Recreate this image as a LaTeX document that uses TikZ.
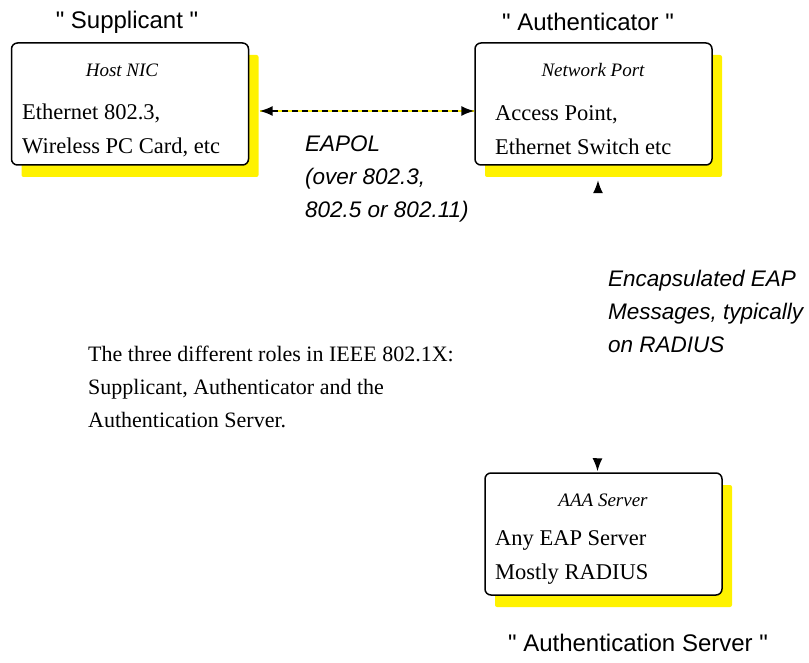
\documentclass[tikz,border=0pt]{standalone}
\usepackage{fontspec}
\setmainfont{Liberation Serif}
\setsansfont{Liberation Sans}
\usetikzlibrary{arrows.meta,calc}
\tikzset{
  box/.style={draw=black, line width=1.5pt, rounded corners=6pt, fill=white,
    minimum width=237pt, minimum height=122pt, inner sep=0pt},
  shadowbox/.style={fill=yellow, draw=none, rounded corners=2pt,
    minimum width=237pt, minimum height=122pt, inner sep=0pt},
  role/.style={font=\sffamily\fontsize{24}{30}\selectfont, inner sep=0pt},
  boxhead/.style={font=\itshape\fontsize{19}{23}\selectfont, inner sep=0pt},
  boxtext/.style={font=\fontsize{22.5}{34}\selectfont, align=left, anchor=west, inner sep=0pt},
  conntext/.style={font=\sffamily\itshape\fontsize{22.5}{33}\selectfont, align=left, anchor=west, inner sep=0pt},
  desc/.style={font=\fontsize{22}{33}\selectfont, align=left, anchor=west, inner sep=0pt},
  tipshape/.tip={Latex[length=13pt,width=10pt,color=black]},
}
\newcommand{\dq}{\textquotedbl}
\begin{document}
\begin{tikzpicture}[x=1pt,y=-1pt]
\useasboundingbox (0,0) rectangle (809,663);
% shadows
\node[shadowbox] (suppsh) at (140,116) {};
\node[shadowbox] (authsh) at (603.5,116) {};
\node[shadowbox] (aaash) at (613.5,546) {};
% boxes
\node[box] (supp) at (130,104) {};
\node[box] (auth) at (593.5,104) {};
\node[box] (aaa) at (603.5,534) {};
% titles
\node[role] (supptitle) at (127,22) {\dq\ Supplicant \dq};
\node[role] (authtitle) at (588,22) {\dq\ Authenticator \dq};
\node[role] (aaatitle) at (638,643) {\dq\ Authentication Server \dq};
% box contents
\node[boxhead] (supphead) at (122,70) {Host NIC};
\node[boxtext] (supptext) at (22,130) {Ethernet 802.3,\\Wireless PC Card, etc};
\node[boxhead] (authhead) at (593,70) {Network Port};
\node[boxtext] (authtext) at (495,130) {Access Point,\\Ethernet Switch etc};
\node[boxhead] (aaahead) at (603,500) {AAA Server};
\node[boxtext] (aaatext) at (495,557) {Any EAP Server\\Mostly RADIUS};
% connector labels
\node[conntext] (eapol) at (305,179) {EAPOL\\(over 802.3,\\802.5 or 802.11)};
\node[conntext] (encap) at (608,311) {Encapsulated EAP\\Messages, typically\\on RADIUS};
\node[desc] (desc) at (88,387) {The three different roles in IEEE 802.1X:\\Supplicant, Authenticator and the\\Authentication Server.};
% EAPOL connector
\coordinate (e1) at ($(suppsh.east)+(1,-5)$);
\coordinate (e2) at ($(auth.west)+(0,7)$);
\draw[yellow, line width=1.5pt] (e1) -- (e2);
\draw[black, line width=1.5pt, dash pattern=on 6pt off 4pt, tipshape-tipshape] (e1) -- (e2);
% RADIUS connector (line itself not visible)
\coordinate (v1) at ($(authsh.south)+(-5.5,3)$);
\coordinate (v2) at ($(aaa.north)+(-6,-1)$);
\draw[white, line width=1.5pt, tipshape-tipshape] (v1) -- (v2);
\end{tikzpicture}
\end{document}
